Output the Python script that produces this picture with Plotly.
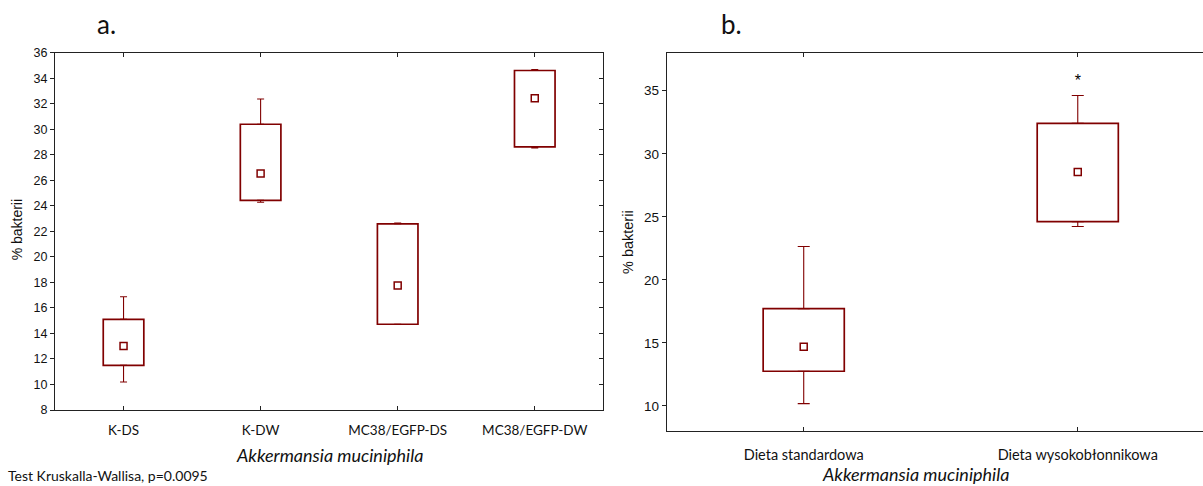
import numpy as np
import plotly.graph_objects as go

# ---------------- data ----------------
groups_a = ["K-DS", "K-DW", "MC38/EGFP-DS", "MC38/EGFP-DW"]
mean_a = [13.02, 26.54, 17.75, 32.43]
box_low_a = [11.50, 24.43, 14.72, 28.62]
box_high_a = [15.10, 30.39, 22.59, 34.60]
whisk_low_a = [10.20, 24.28, 14.70, 28.54]
whisk_high_a = [16.88, 32.37, 22.66, 34.68]

groups_b = ["Dieta standardowa", "Dieta wysokobłonnikowa"]
mean_b = [14.69, 28.56]
box_low_b = [12.75, 24.62]
box_high_b = [17.72, 32.41]
whisk_low_b = [10.18, 24.23]
whisk_high_b = [22.64, 34.62]
star_b = ["", "*"]

yticks_a = list(range(8, 37, 2))
yticks_b = [10, 15, 20, 25, 30, 35]

RED = "#800000"
AX = "#222222"
W, H = 1203, 486
CAT_FONT = "Lato, 'Open Sans', sans-serif"
NUM_FONT = "'Liberation Sans', Arial, sans-serif"

fig = go.Figure()


def add_panel(groups, mean, lo, hi, wlo, whi, xa, ya, capw):
    lo = np.array(lo); hi = np.array(hi); wlo = np.array(wlo); whi = np.array(whi)
    # boxes (bars with a base)
    fig.add_trace(go.Bar(
        x=groups, y=hi - lo, base=lo, width=0.296,
        marker=dict(color="white", line=dict(color=RED, width=1.7)),
        hoverinfo="skip", xaxis=xa, yaxis=ya, showlegend=False))
    # upper whiskers
    fig.add_trace(go.Scatter(
        x=groups, y=hi, mode="markers", marker=dict(size=1, color="rgba(0,0,0,0)"),
        error_y=dict(type="data", symmetric=False, array=whi - hi, arrayminus=np.zeros(len(hi)),
                     color=RED, thickness=1.1, width=capw),
        xaxis=xa, yaxis=ya, showlegend=False, hoverinfo="skip"))
    # lower whiskers
    fig.add_trace(go.Scatter(
        x=groups, y=lo, mode="markers", marker=dict(size=1, color="rgba(0,0,0,0)"),
        error_y=dict(type="data", symmetric=False, array=np.zeros(len(lo)), arrayminus=lo - wlo,
                     color=RED, thickness=1.1, width=capw),
        xaxis=xa, yaxis=ya, showlegend=False, hoverinfo="skip"))
    # means
    fig.add_trace(go.Scatter(
        x=groups, y=mean, mode="markers",
        marker=dict(symbol="square-open", size=7, color=RED, line=dict(width=1.5, color=RED)),
        xaxis=xa, yaxis=ya, showlegend=False))


add_panel(groups_a, mean_a, box_low_a, box_high_a, whisk_low_a, whisk_high_a, "x", "y", 3.5)
add_panel(groups_b, mean_b, box_low_b, box_high_b, whisk_low_b, whisk_high_b, "x2", "y2", 6)

# significance star
fig.add_trace(go.Scatter(
    x=groups_b, y=np.array(whisk_high_b) + 1.05, mode="text", text=star_b,
    textfont=dict(size=16, color="black", family=NUM_FONT),
    xaxis="x2", yaxis="y2", showlegend=False, hoverinfo="skip"))

# dummy trace for right-side inner ticks in panel a
fig.add_trace(go.Scatter(x=[groups_a[0]], y=[yticks_a[0]], mode="markers",
                         marker=dict(size=1, color="rgba(0,0,0,0)"),
                         xaxis="x", yaxis="y3", showlegend=False, hoverinfo="skip"))

xa_dom = [55 / W, 603.3 / W]
ya_dom = [1 - 415 / H, 1 - 47 / H]
xb_dom = [666.7 / W, 1.0]
yb_dom = [1 - 436.7 / H, 1 - 47.3 / H]


def xaxis_style(size, standoff):
    return dict(type="category", showline=True, linecolor=AX, linewidth=1, mirror="ticks",
                ticks="inside", ticklen=4, tickcolor=AX, showgrid=False, zeroline=False,
                tickfont=dict(family=CAT_FONT, size=size, color="#111"), ticklabelstandoff=standoff)


fig.update_layout(
    width=W, height=H, margin=dict(l=0, r=0, t=0, b=0),
    paper_bgcolor="white", plot_bgcolor="white", barmode="overlay",
    xaxis=dict(domain=xa_dom, anchor="y", range=[-0.5, 3.5], **xaxis_style(13.5, 8)),
    yaxis=dict(domain=ya_dom, anchor="x", range=[8, 36], tickvals=yticks_a,
               showline=True, linecolor=AX, linewidth=1, mirror=True,
               ticks="outside", ticklen=4, tickcolor=AX, showgrid=False, zeroline=False,
               tickfont=dict(family=NUM_FONT, size=12.5, color="#111")),
    yaxis3=dict(overlaying="y", anchor="x", side="right", range=[8, 36], tickvals=yticks_a,
                ticks="inside", ticklen=4, tickcolor=AX, showticklabels=False,
                showline=False, showgrid=False, zeroline=False),
    xaxis2=dict(domain=xb_dom, anchor="y2", range=[-0.5, 1.457], **xaxis_style(14.5, 10)),
    yaxis2=dict(domain=yb_dom, anchor="x2", range=[8, 38], tickvals=yticks_b,
                showline=True, linecolor=AX, linewidth=1, mirror=False,
                ticks="outside", ticklen=4, tickcolor=AX, showgrid=False, zeroline=False,
                tickfont=dict(family=NUM_FONT, size=13.5, color="#111")),
)

ann = []


def add_text(txt, px, py, size, family=CAT_FONT, angle=0, xanchor="center"):
    ann.append(dict(text=txt, x=px / W, y=1 - py / H, xref="paper", yref="paper",
                    showarrow=False, textangle=angle, xanchor=xanchor, yanchor="middle",
                    font=dict(family=family, size=size, color="#111")))


add_text("a.", 106, 18, 26)
add_text("b.", 731, 18, 26)
add_text("<i>Akkermansia muciniphila</i>", 329, 461, 18)
add_text("<i>Akkermansia muciniphila</i>", 916, 481, 18)
add_text("Test Kruskalla-Wallisa, p=0.0095", 6, 482, 14, xanchor="left")
add_text("% bakterii", 17, 230, 14, family=NUM_FONT, angle=-90)
add_text("% bakterii", 628, 242, 14.5, family=NUM_FONT, angle=-90)
fig.update_layout(annotations=ann)

fig.write_html("out.html")
